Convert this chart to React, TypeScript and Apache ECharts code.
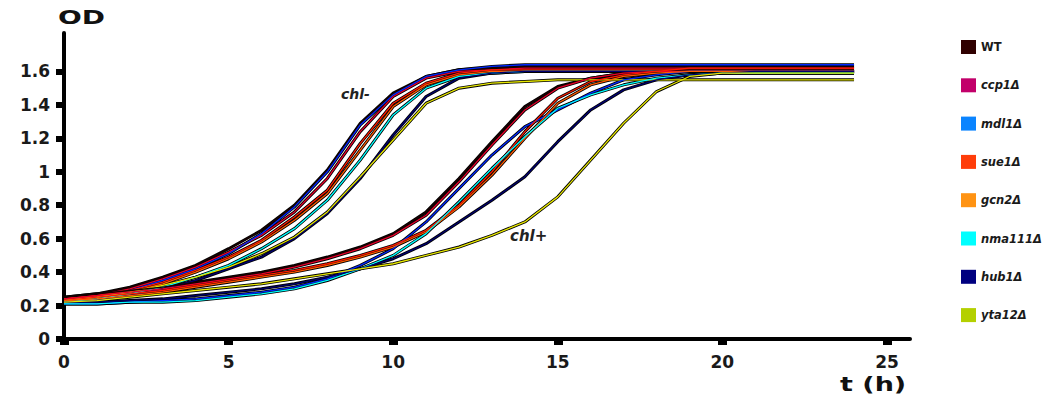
import React, { useEffect, useRef } from "react";
import * as echarts from "echarts";

const hours = [0, 1, 2, 3, 4, 5, 6, 7, 8, 9, 10, 11, 12, 13, 14, 15, 16, 17, 18, 19, 20, 21, 22, 23, 24];
const xTicks = [0, 5, 10, 15, 20, 25];
const yTicks = [0, 0.2, 0.4, 0.6, 0.8, 1, 1.2, 1.4, 1.6];

const strains = ["WT", "ccp1Δ", "mdl1Δ", "sue1Δ", "gcn2Δ", "nma111Δ", "hub1Δ", "yta12Δ"];
const legendColors = ["#300000", "#c2006a", "#0a84ff", "#ff3d0a", "#ff9313", "#00ffff", "#000080", "#b4d000"];
const lineColors = ["#1a0000", "#e8002a", "#0028ff", "#ff1a00", "#ff5a00", "#00ffff", "#000070", "#e6e600"];

// OD, chl- condition
const wtMinus = [0.25, 0.27, 0.31, 0.37, 0.44, 0.54, 0.65, 0.8, 1.01, 1.29, 1.47, 1.57, 1.61, 1.62, 1.63, 1.63, 1.63, 1.63, 1.63, 1.63, 1.63, 1.63, 1.63, 1.63, 1.63];
const ccp1Minus = [0.24, 0.26, 0.3, 0.36, 0.43, 0.52, 0.62, 0.76, 0.96, 1.24, 1.45, 1.56, 1.6, 1.61, 1.62, 1.62, 1.62, 1.62, 1.62, 1.62, 1.62, 1.62, 1.62, 1.62, 1.62];
const mdl1Minus = [0.23, 0.25, 0.29, 0.35, 0.42, 0.51, 0.63, 0.79, 1.0, 1.28, 1.46, 1.57, 1.61, 1.63, 1.64, 1.64, 1.64, 1.64, 1.64, 1.64, 1.64, 1.64, 1.64, 1.64, 1.64];
const sue1Minus = [0.24, 0.26, 0.29, 0.34, 0.41, 0.49, 0.59, 0.73, 0.89, 1.17, 1.41, 1.53, 1.59, 1.61, 1.61, 1.61, 1.61, 1.61, 1.61, 1.61, 1.61, 1.61, 1.61, 1.61, 1.61];
const gcn2Minus = [0.23, 0.25, 0.28, 0.33, 0.4, 0.48, 0.58, 0.71, 0.87, 1.13, 1.39, 1.52, 1.58, 1.6, 1.6, 1.6, 1.6, 1.6, 1.6, 1.6, 1.6, 1.6, 1.6, 1.6, 1.6];
const nma111Minus = [0.22, 0.24, 0.27, 0.31, 0.37, 0.44, 0.54, 0.66, 0.83, 1.07, 1.34, 1.5, 1.57, 1.59, 1.6, 1.6, 1.6, 1.6, 1.6, 1.6, 1.6, 1.6, 1.6, 1.6, 1.6];
const hub1Minus = [0.22, 0.23, 0.26, 0.3, 0.35, 0.42, 0.49, 0.6, 0.75, 0.96, 1.22, 1.45, 1.56, 1.59, 1.6, 1.6, 1.6, 1.6, 1.6, 1.6, 1.6, 1.6, 1.6, 1.6, 1.6];
const yta12Minus = [0.23, 0.25, 0.28, 0.32, 0.37, 0.43, 0.51, 0.61, 0.76, 0.97, 1.19, 1.41, 1.5, 1.53, 1.54, 1.55, 1.55, 1.55, 1.55, 1.55, 1.55, 1.55, 1.55, 1.55, 1.55];

// OD, chl+ condition
const wtPlus = [0.25, 0.27, 0.29, 0.31, 0.34, 0.37, 0.4, 0.44, 0.49, 0.55, 0.63, 0.76, 0.96, 1.18, 1.39, 1.51, 1.56, 1.59, 1.6, 1.61, 1.61, 1.61, 1.61, 1.61, 1.61];
const ccp1Plus = [0.24, 0.26, 0.28, 0.3, 0.33, 0.36, 0.39, 0.43, 0.48, 0.54, 0.62, 0.74, 0.94, 1.16, 1.37, 1.5, 1.56, 1.59, 1.6, 1.6, 1.6, 1.6, 1.6, 1.6, 1.6];
const mdl1Plus = [0.21, 0.21, 0.22, 0.23, 0.24, 0.26, 0.28, 0.31, 0.36, 0.44, 0.54, 0.7, 0.9, 1.1, 1.27, 1.37, 1.47, 1.55, 1.58, 1.6, 1.6, 1.6, 1.6, 1.6, 1.6];
const sue1Plus = [0.23, 0.25, 0.27, 0.29, 0.32, 0.35, 0.38, 0.41, 0.45, 0.5, 0.56, 0.65, 0.8, 1.0, 1.24, 1.44, 1.54, 1.58, 1.6, 1.62, 1.62, 1.62, 1.62, 1.62, 1.62];
const gcn2Plus = [0.23, 0.24, 0.26, 0.28, 0.31, 0.34, 0.37, 0.4, 0.44, 0.49, 0.55, 0.64, 0.79, 0.98, 1.2, 1.41, 1.52, 1.57, 1.59, 1.6, 1.6, 1.6, 1.6, 1.6, 1.6];
const nma111Plus = [0.21, 0.21, 0.22, 0.22, 0.23, 0.25, 0.27, 0.3, 0.35, 0.42, 0.5, 0.63, 0.82, 1.02, 1.21, 1.38, 1.46, 1.52, 1.56, 1.58, 1.59, 1.59, 1.59, 1.59, 1.59];
const hub1Plus = [0.22, 0.22, 0.23, 0.24, 0.26, 0.28, 0.3, 0.33, 0.37, 0.42, 0.48, 0.57, 0.7, 0.83, 0.97, 1.18, 1.37, 1.49, 1.55, 1.58, 1.59, 1.6, 1.6, 1.6, 1.6];
const yta12Plus = [0.22, 0.23, 0.25, 0.27, 0.29, 0.31, 0.33, 0.36, 0.39, 0.42, 0.45, 0.5, 0.55, 0.62, 0.7, 0.85, 1.07, 1.29, 1.48, 1.57, 1.59, 1.59, 1.59, 1.59, 1.59];

const minusSets = [wtMinus, ccp1Minus, mdl1Minus, sue1Minus, gcn2Minus, nma111Minus, hub1Minus, yta12Minus];
const plusSets = [wtPlus, ccp1Plus, mdl1Plus, sue1Plus, gcn2Plus, nma111Plus, hub1Plus, yta12Plus];

const FONT = "'DejaVu Sans', Verdana, sans-serif";

export default function App() {
  const ref = useRef<HTMLDivElement>(null);

  useEffect(() => {
    if (!ref.current) return;
    const chart = echarts.init(ref.current, undefined, { renderer: "svg" });

    const pair = (values: number[]) => values.map((v, i) => [hours[i], v]);
    const outlines: any[] = [];
    const cores: any[] = [];
    [minusSets, plusSets].forEach((sets, g) => {
      sets.forEach((vals, i) => {
        outlines.push({
          type: "line",
          name: strains[i] + (g === 0 ? " chl- outline" : " chl+ outline"),
          data: pair(vals),
          symbol: "none",
          silent: true,
          lineStyle: { color: "#000000", width: 3 },
          z: 2,
        });
        cores.push({
          type: "line",
          name: strains[i],
          data: pair(vals),
          symbol: "none",
          silent: true,
          color: lineColors[i],
          lineStyle: { color: lineColors[i], width: 1.3 },
          z: 3,
        });
      });
    });

    const option: any = {
      animation: false,
      backgroundColor: "#ffffff",
      grid: { left: 64, right: 137, top: 33, bottom: 60, containLabel: false },
      xAxis: {
        type: "value",
        min: 0,
        max: 25.7,
        axisLine: { onZero: false, lineStyle: { color: "#000", width: 4 } },
        axisTick: { customValues: xTicks, length: 6, lineStyle: { color: "#000", width: 9 } },
        axisLabel: {
          customValues: xTicks,
          fontFamily: FONT,
          fontWeight: "bold",
          fontSize: 17,
          color: "#1a1a1a",
          margin: 14,
        },
        splitLine: { show: false },
      },
      yAxis: {
        type: "value",
        min: 0,
        max: 1.83,
        axisLine: { show: true, lineStyle: { color: "#000", width: 4 } },
        axisTick: { show: true, customValues: yTicks, length: 8, lineStyle: { color: "#000", width: 6 } },
        axisLabel: {
          customValues: yTicks,
          fontFamily: FONT,
          fontWeight: "bold",
          fontSize: 17,
          color: "#1a1a1a",
          margin: 14,
        },
        splitLine: { show: false },
      },
      legend: {
        orient: "vertical",
        left: 956,
        top: 35,
        itemWidth: 15,
        itemHeight: 14,
        itemGap: 24.3,
        icon: "rect",
        selectedMode: false,
        textStyle: {
          fontFamily: FONT,
          fontWeight: "bold",
          fontStyle: "italic",
          fontSize: 11.5,
          color: "#1a1a1a",
        },
        data: strains.map((s, i) => ({
          name: s,
          icon: "rect",
          itemStyle: { color: legendColors[i], borderWidth: 0 },
          textStyle: i === 0 ? { fontStyle: "normal" } : {},
        })),
      },
      graphic: [
        {
          type: "text",
          left: 58,
          top: 7,
          scaleX: 1.4,
          style: { text: "OD", font: `bold 20px ${FONT}`, fill: "#111" },
        },
        {
          type: "text",
          left: 840,
          top: 374,
          scaleX: 1.35,
          style: { text: "t (h)", font: `bold 20px ${FONT}`, fill: "#111" },
        },
        {
          type: "text",
          left: 341,
          top: 87,
          style: { text: "chl-", font: `italic bold 14px ${FONT}`, fill: "#222" },
        },
        {
          type: "text",
          left: 510,
          top: 228,
          style: { text: "chl+", font: `italic bold 15px ${FONT}`, fill: "#222" },
        },
      ],
      series: [...outlines, ...cores],
    };

    chart.setOption(option);
    return () => chart.dispose();
  }, []);

  return (
    <div
      ref={ref}
      style={{ position: "absolute", left: 0, top: 0, width: 1047, height: 399 }}
    />
  );
}
